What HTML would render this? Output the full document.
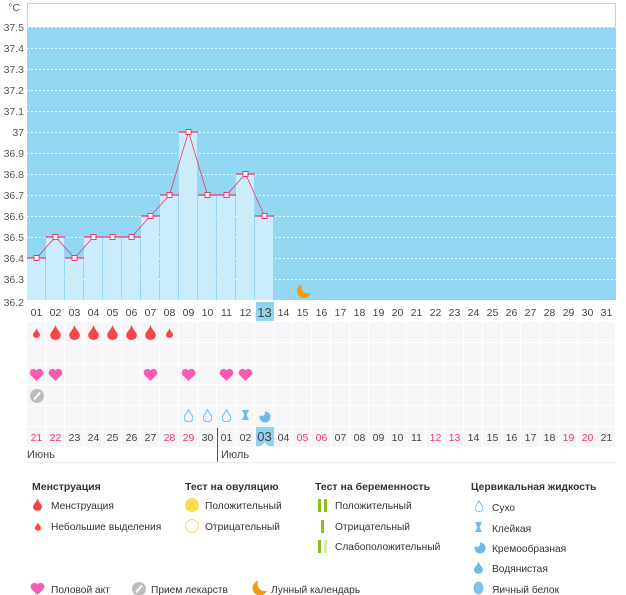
<!DOCTYPE html>
<html><head><meta charset="utf-8"><style>
html,body{margin:0;padding:0;background:#fff;}
svg{display:block;font-family:"Liberation Sans",sans-serif;}
</style></head><body>
<svg width="626" height="595" viewBox="0 0 626 595" xmlns="http://www.w3.org/2000/svg">
<defs>
<pattern id="cells" x="27" y="322" width="19" height="21" patternUnits="userSpaceOnUse">
<rect x="0" y="0" width="18" height="20" fill="#f6f6f8"/>
</pattern>
<symbol id="drop" viewBox="0 0 10 14"><path d="M5 0 C6 4 10 7 10 9.5 A5 4.5 0 0 1 0 9.5 C0 7 4 4 5 0Z"/></symbol>
<symbol id="heart" viewBox="0 0 16 14"><path d="M8 14 L1.5 7.5 A4 4 0 0 1 8 2.5 A4 4 0 0 1 14.5 7.5Z"/></symbol>
</defs>
<rect x="27.5" y="3.5" width="588" height="24" fill="#fff" stroke="#a8dcf3"/>
<rect x="27" y="27" width="589" height="273" fill="#92d8f3"/>
<g stroke="#fff" stroke-dasharray="1.5,2.5" stroke-width="1">
<line x1="27" y1="27.5" x2="616" y2="27.5"/><line x1="27" y1="48.5" x2="616" y2="48.5"/><line x1="27" y1="69.5" x2="616" y2="69.5"/><line x1="27" y1="90.5" x2="616" y2="90.5"/><line x1="27" y1="111.5" x2="616" y2="111.5"/><line x1="27" y1="132.5" x2="616" y2="132.5"/><line x1="27" y1="153.5" x2="616" y2="153.5"/><line x1="27" y1="174.5" x2="616" y2="174.5"/><line x1="27" y1="195.5" x2="616" y2="195.5"/><line x1="27" y1="216.5" x2="616" y2="216.5"/><line x1="27" y1="237.5" x2="616" y2="237.5"/><line x1="27" y1="258.5" x2="616" y2="258.5"/><line x1="27" y1="279.5" x2="616" y2="279.5"/><line x1="27" y1="300.5" x2="616" y2="300.5"/>
</g>
<g fill="#555" font-size="10.5" text-anchor="end">
<text x="20" y="11">°C</text>
<text x="24" y="31">37.5</text><text x="24" y="52">37.4</text><text x="24" y="73">37.3</text><text x="24" y="94">37.2</text><text x="24" y="115">37.1</text><text x="24" y="136">37</text><text x="24" y="157">36.9</text><text x="24" y="178">36.8</text><text x="24" y="199">36.7</text><text x="24" y="220">36.6</text><text x="24" y="241">36.5</text><text x="24" y="262">36.4</text><text x="24" y="283">36.3</text><text x="24" y="306">36.2</text>
</g>
<g fill="#cbedfb">
<rect x="27" y="258" width="18" height="42"/><rect x="46" y="237" width="18" height="63"/><rect x="65" y="258" width="18" height="42"/><rect x="84" y="237" width="18" height="63"/><rect x="103" y="237" width="18" height="63"/><rect x="122" y="237" width="18" height="63"/><rect x="141" y="216" width="18" height="84"/><rect x="160" y="195" width="18" height="105"/><rect x="179" y="132" width="18" height="168"/><rect x="198" y="195" width="18" height="105"/><rect x="217" y="195" width="18" height="105"/><rect x="236" y="174" width="18" height="126"/><rect x="255" y="216" width="18" height="84"/>
</g>
<g stroke="#f0386e" stroke-width="1.2">
<line x1="27" y1="258" x2="46" y2="258"/><line x1="46" y1="237" x2="65" y2="237"/><line x1="65" y1="258" x2="84" y2="258"/><line x1="84" y1="237" x2="141" y2="237"/><line x1="141" y1="216" x2="160" y2="216"/><line x1="160" y1="195" x2="179" y2="195"/><line x1="179" y1="132" x2="198" y2="132"/><line x1="198" y1="195" x2="236" y2="195"/><line x1="236" y1="174" x2="255" y2="174"/><line x1="255" y1="216" x2="274" y2="216"/>
</g>
<polyline fill="none" stroke="#f0386e" stroke-width="0.8" points="36.5,258 55.5,237 74.5,258 93.5,237 112.5,237 131.5,237 150.5,216 169.5,195 188.5,132 207.5,195 226.5,195 245.5,174 264.5,216"/>
<g fill="#fff" stroke="#f0386e" stroke-width="1">
<rect x="34" y="255.5" width="5" height="5"/><rect x="53" y="234.5" width="5" height="5"/><rect x="72" y="255.5" width="5" height="5"/><rect x="91" y="234.5" width="5" height="5"/><rect x="110" y="234.5" width="5" height="5"/><rect x="129" y="234.5" width="5" height="5"/><rect x="148" y="213.5" width="5" height="5"/><rect x="167" y="192.5" width="5" height="5"/><rect x="186" y="129.5" width="5" height="5"/><rect x="205" y="192.5" width="5" height="5"/><rect x="224" y="192.5" width="5" height="5"/><rect x="243" y="171.5" width="5" height="5"/><rect x="262" y="213.5" width="5" height="5"/>
</g>
<!-- moon -->
<circle cx="304" cy="291" r="7" fill="#f29b12"/>
<circle cx="308" cy="287" r="6.5" fill="#92d8f3"/>
<rect x="256" y="302" width="18" height="19" fill="#8fd3f0"/>
<g fill="#444" font-size="10.5" text-anchor="middle">
<text x="36.5" y="316">01</text><text x="55.5" y="316">02</text><text x="74.5" y="316">03</text><text x="93.5" y="316">04</text><text x="112.5" y="316">05</text><text x="131.5" y="316">06</text><text x="150.5" y="316">07</text><text x="169.5" y="316">08</text><text x="188.5" y="316">09</text><text x="207.5" y="316">10</text><text x="226.5" y="316">11</text><text x="245.5" y="316">12</text><text x="264.5" y="317" font-size="13">13</text><text x="283.5" y="316">14</text><text x="302.5" y="316">15</text><text x="321.5" y="316">16</text><text x="340.5" y="316">17</text><text x="359.5" y="316">18</text><text x="378.5" y="316">19</text><text x="397.5" y="316">20</text><text x="416.5" y="316">21</text><text x="435.5" y="316">22</text><text x="454.5" y="316">23</text><text x="473.5" y="316">24</text><text x="492.5" y="316">25</text><text x="511.5" y="316">26</text><text x="530.5" y="316">27</text><text x="549.5" y="316">28</text><text x="568.5" y="316">29</text><text x="587.5" y="316">30</text><text x="606.5" y="316">31</text>
</g>
<rect x="27" y="322" width="589" height="126" fill="url(#cells)"/>
<g fill="#f5464a">
<use href="#drop" x="33" y="328" width="7" height="10"/>
<use href="#drop" x="50" y="325" width="11" height="15"/><use href="#drop" x="69" y="325" width="11" height="15"/><use href="#drop" x="88" y="325" width="11" height="15"/><use href="#drop" x="107" y="325" width="11" height="15"/><use href="#drop" x="126" y="325" width="11" height="15"/><use href="#drop" x="145" y="325" width="11" height="15"/>
<use href="#drop" x="166" y="328" width="7" height="10"/>
</g>
<g fill="#fb5ab4">
<use href="#heart" x="29" y="368" width="15" height="13"/><use href="#heart" x="48" y="368" width="15" height="13"/><use href="#heart" x="143" y="368" width="15" height="13"/><use href="#heart" x="181" y="368" width="15" height="13"/><use href="#heart" x="219" y="368" width="15" height="13"/><use href="#heart" x="238" y="368" width="15" height="13"/>
</g>
<circle cx="37" cy="396" r="7" fill="#bdbdbd"/><line x1="34" y1="399.5" x2="40" y2="392.5" stroke="#fff" stroke-width="2"/>
<g fill="none" stroke="#6cbcea" stroke-width="1.1">
<use href="#drop" x="184" y="409" width="9" height="13"/><use href="#drop" x="203" y="409" width="9" height="13"/><use href="#drop" x="222" y="409" width="9" height="13"/>
</g>
<path d="M242 410h7l-2.5 5 2.5 5h-7l2.5-5z" fill="#6cbcea"/>
<circle cx="265" cy="417" r="5.5" fill="#6cbcea"/><circle cx="262" cy="413" r="3" fill="#f6f6f8"/>
<rect x="256" y="427" width="18" height="19" fill="#8fd3f0"/>
<line x1="217.5" y1="428" x2="217.5" y2="462" stroke="#555"/>
<g fill="#444" font-size="10.5" text-anchor="middle">
<text x="36.5" y="441" fill="#f0386e">21</text><text x="55.5" y="441" fill="#f0386e">22</text><text x="74.5" y="441">23</text><text x="93.5" y="441">24</text><text x="112.5" y="441">25</text><text x="131.5" y="441">26</text><text x="150.5" y="441">27</text><text x="169.5" y="441" fill="#f0386e">28</text><text x="188.5" y="441" fill="#f0386e">29</text><text x="207.5" y="441">30</text><text x="226.5" y="441">01</text><text x="245.5" y="441">02</text><text x="264.5" y="441" font-size="13">03</text><text x="283.5" y="441">04</text><text x="302.5" y="441" fill="#f0386e">05</text><text x="321.5" y="441" fill="#f0386e">06</text><text x="340.5" y="441">07</text><text x="359.5" y="441">08</text><text x="378.5" y="441">09</text><text x="397.5" y="441">10</text><text x="416.5" y="441">11</text><text x="435.5" y="441" fill="#f0386e">12</text><text x="454.5" y="441" fill="#f0386e">13</text><text x="473.5" y="441">14</text><text x="492.5" y="441">15</text><text x="511.5" y="441">16</text><text x="530.5" y="441">17</text><text x="549.5" y="441">18</text><text x="568.5" y="441" fill="#f0386e">19</text><text x="587.5" y="441" fill="#f0386e">20</text><text x="606.5" y="441">21</text>
</g>
<polygon points="261,446 264.5,442 268,446" fill="#fff"/>
<text x="27" y="458" font-size="11" fill="#444">Июнь</text>
<text x="221" y="458" font-size="11" fill="#444">Июль</text>
<line x1="27" y1="462.5" x2="616" y2="462.5" stroke="#eee"/>
<g font-size="10.2" fill="#333">
<text x="32" y="490" font-weight="bold" font-size="10.5">Менструация</text>
<text x="185" y="490" font-weight="bold" font-size="10.5">Тест на овуляцию</text>
<text x="315" y="490" font-weight="bold" font-size="10.5">Тест на беременность</text>
<text x="471" y="490" font-weight="bold" font-size="10.3">Цервикальная жидкость</text>
<text x="51" y="509">Менструация</text>
<text x="51" y="530">Небольшие выделения</text>
<text x="205" y="509">Положительный</text>
<text x="205" y="530">Отрицательный</text>
<text x="335" y="509">Положительный</text>
<text x="335" y="530">Отрицательный</text>
<text x="335" y="550">Слабоположительный</text>
<text x="492" y="511">Сухо</text>
<text x="492" y="532">Клейкая</text>
<text x="492" y="552">Кремообразная</text>
<text x="492" y="572">Водянистая</text>
<text x="492" y="593">Яичный белок</text>
<text x="51" y="593">Половой акт</text>
<text x="151" y="593">Прием лекарств</text>
<text x="271" y="593">Лунный календарь</text>
</g>
<g fill="#f5464a">
<use href="#drop" x="33" y="498" width="9" height="13"/>
<use href="#drop" x="35" y="522" width="6" height="9"/>
</g>
<circle cx="192" cy="505" r="7" fill="#fddc4e"/>
<circle cx="192" cy="526" r="6.5" fill="none" stroke="#fddc4e"/>
<rect x="318" y="499" width="3" height="13" fill="#8dbf1b"/><rect x="324" y="499" width="3" height="13" fill="#8dbf1b"/>
<rect x="321" y="520" width="3" height="13" fill="#8dbf1b"/>
<rect x="318" y="540" width="3" height="13" fill="#8dbf1b"/><rect x="324" y="540" width="3" height="13" fill="#d8e9b4"/>
<use href="#drop" x="475" y="500" width="8" height="12" fill="none" stroke="#6cbcea" stroke-width="1.1"/>
<path d="M475 522h7l-2.5 5 2.5 5h-7l2.5-5z" fill="#6cbcea"/>
<circle cx="480" cy="548" r="5.5" fill="#6cbcea"/><circle cx="477" cy="544" r="3" fill="#fff"/>
<use href="#drop" x="474" y="561" width="9" height="13" fill="#6cbcea"/>
<ellipse cx="478.5" cy="588" rx="5" ry="6.5" fill="#7cc4f0"/>
<use href="#heart" x="30" y="582" width="15" height="13" fill="#fb5ab4"/>
<circle cx="139" cy="589" r="7" fill="#bdbdbd"/><line x1="136" y1="592.5" x2="142" y2="585.5" stroke="#fff" stroke-width="2"/>
<circle cx="260" cy="588" r="7.5" fill="#f29b12"/>
<circle cx="264.5" cy="584" r="7" fill="#fff"/>
</svg>
</body></html>
